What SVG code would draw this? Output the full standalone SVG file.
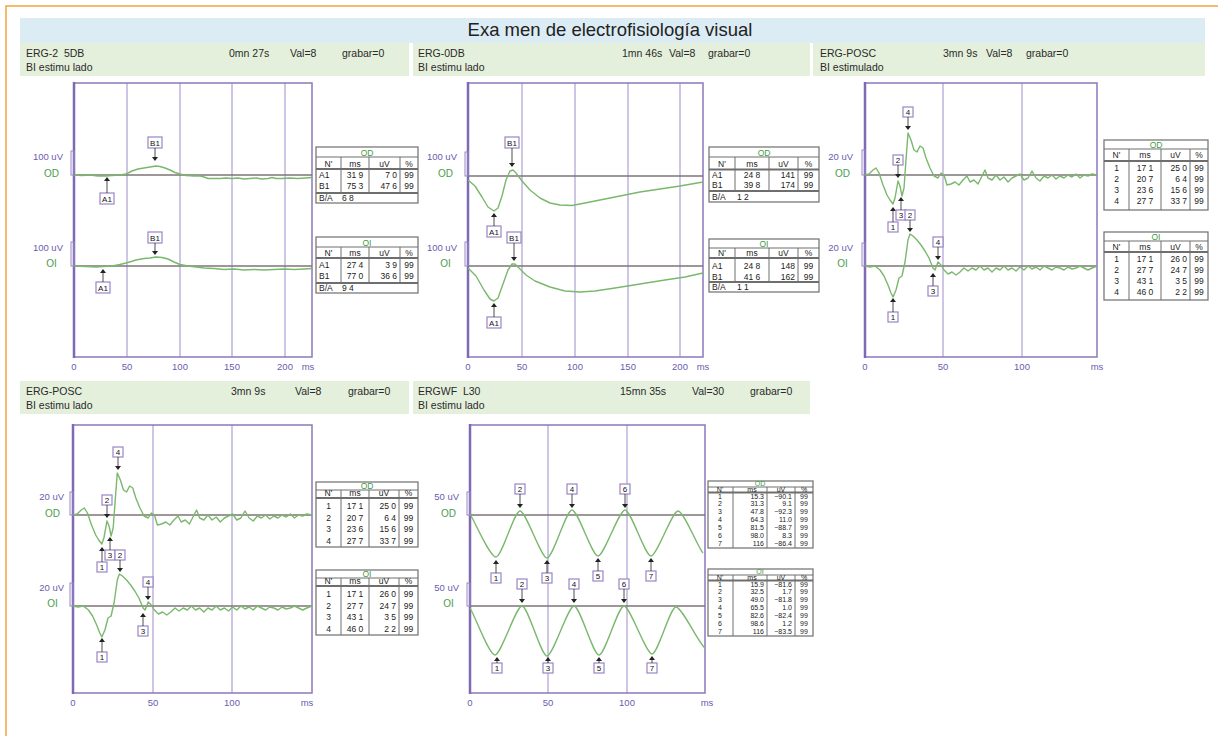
<svg xmlns="http://www.w3.org/2000/svg" xmlns:xlink="http://www.w3.org/1999/xlink" width="1218" height="736" viewBox="0 0 1218 736">
<style>
text{font-family:"Liberation Sans",Arial,sans-serif}
.hd{font-size:10.5px;fill:#2a2a2a;white-space:pre}
.fr{fill:none;stroke:#8b78bb;stroke-width:1.5}
.fl{stroke:#7e6ab3;stroke-width:2.5}
.gr{stroke:#9d8dc9;stroke-width:1}
.bs{stroke:#7d7575;stroke-width:1.4}
.tr{fill:none;stroke:#7ab86d;stroke-width:1.4;stroke-linejoin:round}
.sc{fill:#6a5cae;font-size:9.5px;text-anchor:end}
.ey{fill:#4a9d4a;font-size:10px;text-anchor:middle}
.ax{fill:#6a5cae;font-size:9.5px;text-anchor:middle}
.br{fill:none;stroke:#9a85c6;stroke-width:1}
.tb{fill:#fff;stroke:#6e6e6e;stroke-width:1.2}
.tl{stroke:#6e6e6e;stroke-width:1}
.tl2{stroke:#6e6e6e;stroke-width:1.8}
.tt{font-size:8.5px;fill:#222;text-anchor:middle}
.ts{font-size:7px;fill:#222;text-anchor:middle}
.l{text-anchor:start}
.e{text-anchor:end}
.tg{fill:#3f9a3f}
.mb{fill:#fff;stroke:#9a85c6;stroke-width:1.2}
.mt{font-size:8px;fill:#111;text-anchor:middle}
.ml{stroke:#222;stroke-width:0.8}
</style>
<defs>
<path id="ahd" d="M-3,-4 L3,-4 L0,0 Z" fill="#222"/>
<path id="ahu" d="M-3,4 L3,4 L0,0 Z" fill="#222"/>
<path id="p3od" class="tr" vector-effect="non-scaling-stroke" d="M865,175 L869,174 L873,170 L876,168 L879,173 L883,185 L887,195 L890,200 L893,204 L895,198 L898,181 L900,186 L902,196 L904,188 L906,160 L908,133 L911,140 L914,150 L917,152 L920,146 L923,148 L926,158 L930,168 L934,176 L938,178 L941,173 L944,175 L947,185 L951,184 L955,182 L959,185 L963,180 L967,176 L970,182 L974,180 L978,184 L982,176 L985,170 L988,178 L992,180 L996,175 L1000,180 L1004,177 L1008,182 L1012,178 L1016,176 L1020,174 L1024,180 L1028,178 L1032,171 L1036,178 L1040,181 L1044,176 L1048,178 L1052,175 L1056,179 L1060,176 L1064,178 L1068,175 L1072,177 L1076,174 L1080,178 L1084,175 L1088,176 L1092,174 L1097,175"/>
<path id="p3oi" class="tr" vector-effect="non-scaling-stroke" d="M865,266 L870,267 L875,266 L880,270 L884,276 L888,285 L891,293 L893,297 L896,290 L899,278 L902,276 L905,262 L908,240 L910,234 L913,236 L917,240 L921,245 L925,251 L929,258 L933,268 L935,270 L938,262 L941,265 L944,270 L948,274 L952,272 L956,275 L960,272 L964,268 L968,271 L972,268 L976,270 L980,266 L984,270 L988,268 L992,272 L996,268 L1000,270 L1004,266 L1008,270 L1012,268 L1016,271 L1020,267 L1024,270 L1028,266 L1032,269 L1036,267 L1040,270 L1044,266 L1048,268 L1052,270 L1056,267 L1060,268 L1064,270 L1068,267 L1072,269 L1076,268 L1080,266 L1084,268 L1088,270 L1092,268 L1097,266"/>
</defs>
<rect width="1218" height="736" fill="#fff"/>
<path d="M6,736 V6 H1218" fill="none" stroke="#f5a43c" stroke-width="1.5"/>
<g id="title">
<rect x="20" y="18" width="1185" height="25" fill="#dcecf4"/>
<text x="610" y="36" font-size="18.5" fill="#222" text-anchor="middle">Exa men de electrofisiología visual</text>
</g>

<!-- Panel 1 -->
<g id="panel1">
<rect x="20" y="43" width="389" height="33" fill="#e4f0dc"/>
<text class="hd" x="26" y="57">ERG-2  5DB</text>
<text class="hd" x="26" y="71">BI estimu lado</text>
<text class="hd" x="229" y="57">0mn 27s</text>
<text class="hd" x="290" y="57">Val=8</text>
<text class="hd" x="342" y="57">grabar=0</text>
<g class="gr"><line x1="127" y1="83" x2="127" y2="357"/><line x1="180" y1="83" x2="180" y2="357"/><line x1="232" y1="83" x2="232" y2="357"/><line x1="285" y1="83" x2="285" y2="357"/></g>
<rect class="fr" x="74" y="83" width="238" height="274"/>
<line class="fl" x1="74" y1="82" x2="74" y2="358"/>
<line class="bs" x1="74" y1="175" x2="312" y2="175"/>
<line class="bs" x1="74" y1="266" x2="312" y2="266"/>
<path class="tr" d="M74,175 L82,175.5 L90,175 L98,176 L106,176 L112,175.5 L120,175 L126,174 L132,171 L138,169 L144,168 L150,167 L156,166 L160,166.5 L165,168 L170,170 L175,172.5 L180,174 L186,175.5 L194,176 L200,176 L204,177 L208,178.5 L214,178.5 L220,178.5 L226,178 L232,178.5 L238,178 L244,179 L250,178.5 L256,178 L262,179 L268,178.5 L272,177.5 L276,178.5 L282,178.5 L290,178 L298,178.5 L305,178 L312,177.5"/>
<path class="tr" d="M74,266 L86,266.5 L96,267 L104,266.5 L112,266 L120,264.5 L128,262.5 L136,260 L144,258.5 L150,258 L156,257 L162,257.5 L168,259 L174,262 L180,264.5 L188,266 L196,267 L204,268 L214,268.5 L224,269.5 L234,269 L244,270 L254,269.5 L264,270 L274,269.5 L284,269 L294,269.5 L304,269 L312,268.5"/>
<rect class="br" x="71" y="151" width="3" height="24"/>
<rect class="br" x="71" y="242" width="3" height="24"/>
<text class="sc" x="63" y="160">100 uV</text>
<text class="ey" x="51.5" y="177">OD</text>
<text class="sc" x="63" y="251">100 uV</text>
<text class="ey" x="51.5" y="267">OI</text>
<text class="ax" x="74" y="370">0</text><text class="ax" x="127" y="370">50</text><text class="ax" x="180" y="370">100</text><text class="ax" x="232" y="370">150</text><text class="ax" x="285" y="370">200</text><text class="ax" x="308" y="370">ms</text>
<g id="p1-mk">
<rect class="mb" x="148" y="137" width="14" height="11"/><text class="mt" x="155" y="145.5">B1</text><line class="ml" x1="155" y1="148" x2="155" y2="158"/><use xlink:href="#ahd" x="155" y="161"/>
<rect class="mb" x="100" y="193" width="14" height="11"/><text class="mt" x="107" y="201.5">A1</text><line class="ml" x1="107" y1="180" x2="107" y2="193"/><use xlink:href="#ahu" x="107" y="177"/>
<rect class="mb" x="148" y="232" width="14" height="11"/><text class="mt" x="155" y="240.5">B1</text><line class="ml" x1="155" y1="243" x2="155" y2="252"/><use xlink:href="#ahd" x="155" y="255"/>
<rect class="mb" x="96" y="282" width="14" height="11"/><text class="mt" x="103" y="290.5">A1</text><line class="ml" x1="103" y1="272" x2="103" y2="282"/><use xlink:href="#ahu" x="103" y="269"/>
</g>
<g id="p1-od-table">
<rect class="tb" x="316" y="147" width="102" height="56"/>
<line class="tl" x1="316" y1="157" x2="418" y2="157"/><line class="tl2" x1="316" y1="169" x2="418" y2="169"/><line class="tl2" x1="316" y1="193" x2="418" y2="193"/>
<line class="tl" x1="341" y1="157" x2="341" y2="193"/><line class="tl" x1="369" y1="157" x2="369" y2="193"/><line class="tl" x1="400" y1="157" x2="400" y2="193"/>
<text class="tt tg" x="367" y="155.5">OD</text>
<text class="tt" x="328.5" y="166.5">N'</text><text class="tt" x="355" y="166.5">ms</text><text class="tt" x="384.5" y="166.5">uV</text><text class="tt" x="409" y="166.5">%</text>
<text class="tt l" x="319" y="178">A1</text><text class="tt" x="355" y="178">31 9</text><text class="tt e" x="397" y="178">7 0</text><text class="tt" x="409" y="178">99</text>
<text class="tt l" x="319" y="189">B1</text><text class="tt" x="355" y="189">75 3</text><text class="tt e" x="397" y="189">47 6</text><text class="tt" x="409" y="189">99</text>
<text class="tt l" x="319" y="200.5">B/A</text><text class="tt l" x="342" y="200.5">6 8</text>
</g>
<g id="p1-oi-table">
<rect class="tb" x="316" y="237" width="102" height="56"/>
<line class="tl" x1="316" y1="247" x2="418" y2="247"/><line class="tl2" x1="316" y1="258" x2="418" y2="258"/><line class="tl2" x1="316" y1="283" x2="418" y2="283"/>
<line class="tl" x1="341" y1="247" x2="341" y2="283"/><line class="tl" x1="369" y1="247" x2="369" y2="283"/><line class="tl" x1="400" y1="247" x2="400" y2="283"/>
<text class="tt tg" x="367" y="245.5">OI</text>
<text class="tt" x="328.5" y="255.5">N'</text><text class="tt" x="355" y="255.5">ms</text><text class="tt" x="384.5" y="255.5">uV</text><text class="tt" x="409" y="255.5">%</text>
<text class="tt l" x="319" y="268">A1</text><text class="tt" x="355" y="268">27 4</text><text class="tt e" x="397" y="268">3 9</text><text class="tt" x="409" y="268">99</text>
<text class="tt l" x="319" y="279">B1</text><text class="tt" x="355" y="279">77 0</text><text class="tt e" x="397" y="279">36 6</text><text class="tt" x="409" y="279">99</text>
<text class="tt l" x="319" y="290.5">B/A</text><text class="tt l" x="342" y="290.5">9 4</text>
</g>
</g>

<!-- Panel 2 -->
<g id="panel2">
<rect x="413" y="43" width="397" height="33" fill="#e4f0dc"/>
<text class="hd" x="418" y="57">ERG-0DB</text>
<text class="hd" x="418" y="71">BI estimu lado</text>
<text class="hd" x="622" y="57">1mn 46s</text>
<text class="hd" x="669" y="57">Val=8</text>
<text class="hd" x="708" y="57">grabar=0</text>
<g class="gr"><line x1="522" y1="83" x2="522" y2="357"/><line x1="575" y1="83" x2="575" y2="357"/><line x1="628" y1="83" x2="628" y2="357"/><line x1="680" y1="83" x2="680" y2="357"/></g>
<rect class="fr" x="468" y="83" width="235" height="274"/>
<line class="fl" x1="468" y1="82" x2="468" y2="358"/>
<line class="bs" x1="468" y1="176" x2="703" y2="176"/>
<line class="bs" x1="468" y1="266" x2="703" y2="266"/>
<path class="tr" d="M468,180 L475,186 L482,197 L488,207 L494,211 L498,208 L502,196 L506,180 L510,171 L513,170 L516,173 L522,181 L530,190 L540,198 L550,203 L560,205 L572,205.5 L585,203 L600,200 L620,196 L640,192 L660,189 L680,186 L703,182"/>
<path class="tr" d="M468,268 L476,276 L484,290 L490,299 L494,301 L498,298 L503,284 L508,270 L512,264 L515,264 L519,268 L526,275 L535,281 L550,287 L565,291 L580,292 L595,291 L615,288 L640,284 L665,280 L685,277 L703,273"/>
<rect class="br" x="465" y="152" width="3" height="24"/>
<rect class="br" x="465" y="242" width="3" height="24"/>
<text class="sc" x="457" y="160">100 uV</text>
<text class="ey" x="445.5" y="177">OD</text>
<text class="sc" x="457" y="251">100 uV</text>
<text class="ey" x="445.5" y="267">OI</text>
<text class="ax" x="468" y="370">0</text><text class="ax" x="522" y="370">50</text><text class="ax" x="575" y="370">100</text><text class="ax" x="628" y="370">150</text><text class="ax" x="680" y="370">200</text><text class="ax" x="703" y="370">ms</text>
<g id="p2-mk">
<rect class="mb" x="505" y="137" width="14" height="11"/><text class="mt" x="512" y="145.5">B1</text><line class="ml" x1="512" y1="148" x2="512" y2="164"/><use xlink:href="#ahd" x="512" y="167"/>
<rect class="mb" x="487" y="226" width="14" height="11"/><text class="mt" x="494" y="234.5">A1</text><line class="ml" x1="494" y1="216" x2="494" y2="226"/><use xlink:href="#ahu" x="494" y="213"/>
<rect class="mb" x="507" y="232" width="14" height="11"/><text class="mt" x="514" y="240.5">B1</text><line class="ml" x1="514" y1="243" x2="514" y2="258"/><use xlink:href="#ahd" x="514" y="261"/>
<rect class="mb" x="487" y="317" width="14" height="11"/><text class="mt" x="494" y="325.5">A1</text><line class="ml" x1="494" y1="306" x2="494" y2="317"/><use xlink:href="#ahu" x="494" y="303"/>
</g>
<g id="p2-od-table">
<rect class="tb" x="709" y="147" width="110" height="55"/>
<line class="tl" x1="709" y1="157" x2="819" y2="157"/><line class="tl2" x1="709" y1="169.5" x2="819" y2="169.5"/><line class="tl2" x1="709" y1="191" x2="819" y2="191"/>
<line class="tl" x1="735" y1="157" x2="735" y2="191"/><line class="tl" x1="769" y1="157" x2="769" y2="191"/><line class="tl" x1="798" y1="157" x2="798" y2="191"/>
<text class="tt tg" x="764" y="155.5">OD</text>
<text class="tt" x="722" y="166.5">N'</text><text class="tt" x="752" y="166.5">ms</text><text class="tt" x="783.5" y="166.5">uV</text><text class="tt" x="808.5" y="166.5">%</text>
<text class="tt l" x="712" y="177.5">A1</text><text class="tt" x="752" y="177.5">24 8</text><text class="tt e" x="795" y="177.5">141</text><text class="tt" x="808.5" y="177.5">99</text>
<text class="tt l" x="712" y="188">B1</text><text class="tt" x="752" y="188">39 8</text><text class="tt e" x="795" y="188">174</text><text class="tt" x="808.5" y="188">99</text>
<text class="tt l" x="712" y="199.5">B/A</text><text class="tt l" x="737" y="199.5">1 2</text>
</g>
<g id="p2-oi-table">
<rect class="tb" x="709" y="239" width="110" height="53"/>
<line class="tl" x1="709" y1="248" x2="819" y2="248"/><line class="tl2" x1="709" y1="258" x2="819" y2="258"/><line class="tl2" x1="709" y1="282" x2="819" y2="282"/>
<line class="tl" x1="735" y1="248" x2="735" y2="282"/><line class="tl" x1="769" y1="248" x2="769" y2="282"/><line class="tl" x1="798" y1="248" x2="798" y2="282"/>
<text class="tt tg" x="764" y="246.5">OI</text>
<text class="tt" x="722" y="256">N'</text><text class="tt" x="752" y="256">ms</text><text class="tt" x="783.5" y="256">uV</text><text class="tt" x="808.5" y="256">%</text>
<text class="tt l" x="712" y="268.5">A1</text><text class="tt" x="752" y="268.5">24 8</text><text class="tt e" x="795" y="268.5">148</text><text class="tt" x="808.5" y="268.5">99</text>
<text class="tt l" x="712" y="279.5">B1</text><text class="tt" x="752" y="279.5">41 6</text><text class="tt e" x="795" y="279.5">162</text><text class="tt" x="808.5" y="279.5">99</text>
<text class="tt l" x="712" y="290">B/A</text><text class="tt l" x="737" y="290">1 1</text>
</g>
</g>

<!-- Panel 3 -->
<g id="panel3">
<rect x="813" y="43" width="392" height="33" fill="#e4f0dc"/>
<text class="hd" x="820" y="57">ERG-POSC</text>
<text class="hd" x="820" y="71">BI estimulado</text>
<text class="hd" x="943" y="57">3mn 9s</text>
<text class="hd" x="986" y="57">Val=8</text>
<text class="hd" x="1026" y="57">grabar=0</text>
<g class="gr"><line x1="943" y1="83" x2="943" y2="357"/><line x1="1022" y1="83" x2="1022" y2="357"/></g>
<rect class="fr" x="865" y="83" width="232" height="274"/>
<line class="fl" x1="865" y1="82" x2="865" y2="358"/>
<line class="bs" x1="865" y1="175" x2="1097" y2="175"/>
<line class="bs" x1="865" y1="266" x2="1097" y2="266"/>
<use xlink:href="#p3od"/>
<use xlink:href="#p3oi"/>
<rect class="br" x="862" y="150" width="3" height="25"/>
<rect class="br" x="862" y="243" width="3" height="23"/>
<text class="sc" x="853" y="160">20 uV</text>
<text class="ey" x="842.5" y="177">OD</text>
<text class="sc" x="853" y="251">20 uV</text>
<text class="ey" x="842.5" y="267">OI</text>
<text class="ax" x="865" y="370">0</text><text class="ax" x="943" y="370">50</text><text class="ax" x="1022" y="370">100</text><text class="ax" x="1097" y="370">ms</text>
<g id="p3-mk">
<rect class="mb" x="903" y="107" width="10" height="10"/><text class="mt" x="908" y="115">4</text><line class="ml" x1="908" y1="117" x2="908" y2="127"/><use xlink:href="#ahd" x="908" y="130"/>
<rect class="mb" x="893" y="155" width="10" height="10"/><text class="mt" x="898" y="163">2</text><line class="ml" x1="898" y1="165" x2="898" y2="175"/><use xlink:href="#ahd" x="898" y="178"/>
<rect class="mb" x="888" y="222" width="10" height="10"/><text class="mt" x="893" y="230">1</text><line class="ml" x1="893" y1="210" x2="893" y2="222"/><use xlink:href="#ahu" x="893" y="207"/>
<rect class="mb" x="896" y="210" width="10" height="10"/><text class="mt" x="901" y="218">3</text><line class="ml" x1="901" y1="200" x2="901" y2="210"/><use xlink:href="#ahu" x="901" y="197"/>
<rect class="mb" x="905" y="210" width="10" height="10"/><text class="mt" x="910" y="218">2</text><line class="ml" x1="910" y1="220" x2="910" y2="229"/><use xlink:href="#ahd" x="910" y="232"/>
<rect class="mb" x="933" y="237" width="10" height="10"/><text class="mt" x="938" y="245">4</text><line class="ml" x1="938" y1="247" x2="938" y2="257"/><use xlink:href="#ahd" x="938" y="260"/>
<rect class="mb" x="928" y="286" width="10" height="10"/><text class="mt" x="933" y="294">3</text><line class="ml" x1="933" y1="276" x2="933" y2="286"/><use xlink:href="#ahu" x="933" y="273"/>
<rect class="mb" x="888" y="312" width="10" height="10"/><text class="mt" x="893" y="320">1</text><line class="ml" x1="893" y1="301" x2="893" y2="312"/><use xlink:href="#ahu" x="893" y="298"/>
</g>
<g id="p3-od-table">
<rect class="tb" x="1104" y="140" width="104" height="70"/>
<line class="tl" x1="1104" y1="149" x2="1208" y2="149"/><line class="tl2" x1="1104" y1="161" x2="1208" y2="161"/>
<line class="tl" x1="1129" y1="149" x2="1129" y2="210"/><line class="tl" x1="1161" y1="149" x2="1161" y2="210"/><line class="tl" x1="1190" y1="149" x2="1190" y2="210"/>
<text class="tt tg" x="1156" y="147.5">OD</text>
<text class="tt" x="1116.5" y="158">N'</text><text class="tt" x="1145" y="158">ms</text><text class="tt" x="1175.5" y="158">uV</text><text class="tt" x="1199" y="158">%</text>
<text class="tt" x="1116.5" y="171">1</text><text class="tt" x="1145" y="171">17 1</text><text class="tt e" x="1187" y="171">25 0</text><text class="tt" x="1199" y="171">99</text>
<text class="tt" x="1116.5" y="182">2</text><text class="tt" x="1145" y="182">20 7</text><text class="tt e" x="1187" y="182">6 4</text><text class="tt" x="1199" y="182">99</text>
<text class="tt" x="1116.5" y="193">3</text><text class="tt" x="1145" y="193">23 6</text><text class="tt e" x="1187" y="193">15 6</text><text class="tt" x="1199" y="193">99</text>
<text class="tt" x="1116.5" y="204">4</text><text class="tt" x="1145" y="204">27 7</text><text class="tt e" x="1187" y="204">33 7</text><text class="tt" x="1199" y="204">99</text>
</g>
<g id="p3-oi-table">
<rect class="tb" x="1104" y="232" width="104" height="68"/>
<line class="tl" x1="1104" y1="241" x2="1208" y2="241"/><line class="tl2" x1="1104" y1="252" x2="1208" y2="252"/>
<line class="tl" x1="1129" y1="241" x2="1129" y2="300"/><line class="tl" x1="1161" y1="241" x2="1161" y2="300"/><line class="tl" x1="1190" y1="241" x2="1190" y2="300"/>
<text class="tt tg" x="1156" y="239.5">OI</text>
<text class="tt" x="1116.5" y="249.5">N'</text><text class="tt" x="1145" y="249.5">ms</text><text class="tt" x="1175.5" y="249.5">uV</text><text class="tt" x="1199" y="249.5">%</text>
<text class="tt" x="1116.5" y="262">1</text><text class="tt" x="1145" y="262">17 1</text><text class="tt e" x="1187" y="262">26 0</text><text class="tt" x="1199" y="262">99</text>
<text class="tt" x="1116.5" y="273">2</text><text class="tt" x="1145" y="273">27 7</text><text class="tt e" x="1187" y="273">24 7</text><text class="tt" x="1199" y="273">99</text>
<text class="tt" x="1116.5" y="284">3</text><text class="tt" x="1145" y="284">43 1</text><text class="tt e" x="1187" y="284">3 5</text><text class="tt" x="1199" y="284">99</text>
<text class="tt" x="1116.5" y="295">4</text><text class="tt" x="1145" y="295">46 0</text><text class="tt e" x="1187" y="295">2 2</text><text class="tt" x="1199" y="295">99</text>
</g>
</g>

<!-- Panel 4 -->
<g id="panel4">
<rect x="20" y="381" width="389" height="33" fill="#e4f0dc"/>
<text class="hd" x="26" y="395">ERG-POSC</text>
<text class="hd" x="26" y="409">BI estimu lado</text>
<text class="hd" x="231" y="395">3mn 9s</text>
<text class="hd" x="295" y="395">Val=8</text>
<text class="hd" x="348" y="395">grabar=0</text>
<g class="gr"><line x1="153" y1="425" x2="153" y2="693"/><line x1="232" y1="425" x2="232" y2="693"/></g>
<rect class="fr" x="73" y="425" width="239" height="268"/>
<line class="fl" x1="73" y1="424" x2="73" y2="694"/>
<line class="bs" x1="73" y1="515" x2="312" y2="515"/>
<line class="bs" x1="73" y1="606" x2="312" y2="606"/>
<use xlink:href="#p3od" transform="translate(73,340) scale(1.03,1) translate(-865,0)"/>
<use xlink:href="#p3oi" transform="translate(73,340) scale(1.03,1) translate(-865,0)"/>
<rect class="br" x="70" y="492" width="3" height="23"/>
<rect class="br" x="70" y="583" width="3" height="23"/>
<text class="sc" x="64" y="500">20 uV</text>
<text class="ey" x="52.5" y="517">OD</text>
<text class="sc" x="64" y="591">20 uV</text>
<text class="ey" x="52.5" y="607">OI</text>
<text class="ax" x="73" y="706">0</text><text class="ax" x="153" y="706">50</text><text class="ax" x="232" y="706">100</text><text class="ax" x="307" y="706">ms</text>
<g id="p4-mk">
<rect class="mb" x="113" y="447" width="10" height="10"/><text class="mt" x="118" y="455">4</text><line class="ml" x1="118" y1="457" x2="118" y2="467"/><use xlink:href="#ahd" x="118" y="470"/>
<rect class="mb" x="102" y="495" width="10" height="10"/><text class="mt" x="107" y="503">2</text><line class="ml" x1="107" y1="505" x2="107" y2="515"/><use xlink:href="#ahd" x="107" y="518"/>
<rect class="mb" x="97" y="562" width="10" height="10"/><text class="mt" x="102" y="570">1</text><line class="ml" x1="102" y1="550" x2="102" y2="562"/><use xlink:href="#ahu" x="102" y="547"/>
<rect class="mb" x="105" y="550" width="10" height="10"/><text class="mt" x="110" y="558">3</text><line class="ml" x1="110" y1="540" x2="110" y2="550"/><use xlink:href="#ahu" x="110" y="537"/>
<rect class="mb" x="115" y="550" width="10" height="10"/><text class="mt" x="120" y="558">2</text><line class="ml" x1="120" y1="560" x2="120" y2="569"/><use xlink:href="#ahd" x="120" y="572"/>
<rect class="mb" x="143" y="577" width="10" height="10"/><text class="mt" x="148" y="585">4</text><line class="ml" x1="148" y1="587" x2="148" y2="597"/><use xlink:href="#ahd" x="148" y="600"/>
<rect class="mb" x="138" y="626" width="10" height="10"/><text class="mt" x="143" y="634">3</text><line class="ml" x1="143" y1="616" x2="143" y2="626"/><use xlink:href="#ahu" x="143" y="613"/>
<rect class="mb" x="97" y="652" width="10" height="10"/><text class="mt" x="102" y="660">1</text><line class="ml" x1="102" y1="641" x2="102" y2="652"/><use xlink:href="#ahu" x="102" y="638"/>
</g>
<g id="p4-od-table">
<rect class="tb" x="316" y="482" width="102" height="65"/>
<line class="tl" x1="316" y1="490" x2="418" y2="490"/><line class="tl2" x1="316" y1="498" x2="418" y2="498"/>
<line class="tl" x1="341" y1="490" x2="341" y2="547"/><line class="tl" x1="369" y1="490" x2="369" y2="547"/><line class="tl" x1="399" y1="490" x2="399" y2="547"/>
<text class="tt tg" x="367" y="489">OD</text>
<text class="tt" x="328.5" y="496">N'</text><text class="tt" x="355" y="496">ms</text><text class="tt" x="384" y="496">uV</text><text class="tt" x="408.5" y="496">%</text>
<text class="tt" x="328.5" y="509">1</text><text class="tt" x="355" y="509">17 1</text><text class="tt e" x="396" y="509">25 0</text><text class="tt" x="408.5" y="509">99</text>
<text class="tt" x="328.5" y="520.5">2</text><text class="tt" x="355" y="520.5">20 7</text><text class="tt e" x="396" y="520.5">6 4</text><text class="tt" x="408.5" y="520.5">99</text>
<text class="tt" x="328.5" y="532">3</text><text class="tt" x="355" y="532">23 6</text><text class="tt e" x="396" y="532">15 6</text><text class="tt" x="408.5" y="532">99</text>
<text class="tt" x="328.5" y="543.5">4</text><text class="tt" x="355" y="543.5">27 7</text><text class="tt e" x="396" y="543.5">33 7</text><text class="tt" x="408.5" y="543.5">99</text>
</g>
<g id="p4-oi-table">
<rect class="tb" x="316" y="570" width="102" height="65"/>
<line class="tl" x1="316" y1="578" x2="418" y2="578"/><line class="tl2" x1="316" y1="586" x2="418" y2="586"/>
<line class="tl" x1="341" y1="578" x2="341" y2="635"/><line class="tl" x1="369" y1="578" x2="369" y2="635"/><line class="tl" x1="399" y1="578" x2="399" y2="635"/>
<text class="tt tg" x="367" y="577">OI</text>
<text class="tt" x="328.5" y="584">N'</text><text class="tt" x="355" y="584">ms</text><text class="tt" x="384" y="584">uV</text><text class="tt" x="408.5" y="584">%</text>
<text class="tt" x="328.5" y="597">1</text><text class="tt" x="355" y="597">17 1</text><text class="tt e" x="396" y="597">26 0</text><text class="tt" x="408.5" y="597">99</text>
<text class="tt" x="328.5" y="608.5">2</text><text class="tt" x="355" y="608.5">27 7</text><text class="tt e" x="396" y="608.5">24 7</text><text class="tt" x="408.5" y="608.5">99</text>
<text class="tt" x="328.5" y="620">3</text><text class="tt" x="355" y="620">43 1</text><text class="tt e" x="396" y="620">3 5</text><text class="tt" x="408.5" y="620">99</text>
<text class="tt" x="328.5" y="631.5">4</text><text class="tt" x="355" y="631.5">46 0</text><text class="tt e" x="396" y="631.5">2 2</text><text class="tt" x="408.5" y="631.5">99</text>
</g>
</g>

<!-- Panel 5 -->
<g id="panel5">
<rect x="413" y="381" width="397" height="33" fill="#e4f0dc"/>
<text class="hd" x="418" y="395">ERGWF  L30</text>
<text class="hd" x="418" y="409">BI estimu lado</text>
<text class="hd" x="620" y="395">15mn 35s</text>
<text class="hd" x="692" y="395">Val=30</text>
<text class="hd" x="750" y="395">grabar=0</text>
<g class="gr"><line x1="548" y1="425" x2="548" y2="693"/><line x1="627" y1="425" x2="627" y2="693"/></g>
<rect class="fr" x="470" y="425" width="235" height="268"/>
<line class="fl" x1="470" y1="424" x2="470" y2="694"/>
<line class="bs" x1="470" y1="515" x2="705" y2="515"/>
<line class="bs" x1="470" y1="606" x2="705" y2="606"/>
<path class="tr" d="M470,514 C476,524 490,557 496,557 C502,557 514,511 520,511 C526,511 541,558 547,558 C553,558 566,510 572,510 C578,510 592,556 598,556 C604,556 619,510 625,510 C631,510 645,556 651,556 C657,556 672,511 678,511 C684,511 698,548 703,553"/>
<path class="tr" d="M470,608 C476,618 489,655 495,655 C501,655 516,606 522,606 C528,606 541,656 547,656 C553,656 568,606 574,606 C580,606 593,655 599,655 C605,655 618,606 624,606 C630,606 646,654 652,654 C658,654 670,607 676,607 C682,607 699,644 705,648"/>
<rect class="br" x="467" y="492" width="3" height="23"/>
<rect class="br" x="467" y="583" width="3" height="23"/>
<text class="sc" x="459" y="500">50 uV</text>
<text class="ey" x="448.5" y="517">OD</text>
<text class="sc" x="459" y="591">50 uV</text>
<text class="ey" x="448.5" y="607">OI</text>
<text class="ax" x="470" y="706">0</text><text class="ax" x="548" y="706">50</text><text class="ax" x="627" y="706">100</text><text class="ax" x="707" y="706">ms</text>
<g id="p5-mk">
<rect class="mb" x="515" y="484" width="10" height="10"/><text class="mt" x="520" y="492">2</text><line class="ml" x1="520" y1="494" x2="520" y2="505"/><use xlink:href="#ahd" x="520" y="508"/>
<rect class="mb" x="567" y="484" width="10" height="10"/><text class="mt" x="572" y="492">4</text><line class="ml" x1="572" y1="494" x2="572" y2="505"/><use xlink:href="#ahd" x="572" y="508"/>
<rect class="mb" x="620" y="484" width="10" height="10"/><text class="mt" x="625" y="492">6</text><line class="ml" x1="625" y1="494" x2="625" y2="505"/><use xlink:href="#ahd" x="625" y="508"/>
<rect class="mb" x="491" y="573" width="10" height="10"/><text class="mt" x="496" y="581">1</text><line class="ml" x1="496" y1="563" x2="496" y2="573"/><use xlink:href="#ahu" x="496" y="560"/>
<rect class="mb" x="542" y="573" width="10" height="10"/><text class="mt" x="547" y="581">3</text><line class="ml" x1="547" y1="563" x2="547" y2="573"/><use xlink:href="#ahu" x="547" y="560"/>
<rect class="mb" x="593" y="571" width="10" height="10"/><text class="mt" x="598" y="579">5</text><line class="ml" x1="598" y1="561" x2="598" y2="571"/><use xlink:href="#ahu" x="598" y="558"/>
<rect class="mb" x="646" y="571" width="10" height="10"/><text class="mt" x="651" y="579">7</text><line class="ml" x1="651" y1="561" x2="651" y2="571"/><use xlink:href="#ahu" x="651" y="558"/>
<rect class="mb" x="517" y="579" width="10" height="10"/><text class="mt" x="522" y="587">2</text><line class="ml" x1="522" y1="589" x2="522" y2="600"/><use xlink:href="#ahd" x="522" y="603"/>
<rect class="mb" x="569" y="579" width="10" height="10"/><text class="mt" x="574" y="587">4</text><line class="ml" x1="574" y1="589" x2="574" y2="600"/><use xlink:href="#ahd" x="574" y="603"/>
<rect class="mb" x="619" y="579" width="10" height="10"/><text class="mt" x="624" y="587">6</text><line class="ml" x1="624" y1="589" x2="624" y2="600"/><use xlink:href="#ahd" x="624" y="603"/>
<rect class="mb" x="492" y="663" width="10" height="10"/><text class="mt" x="497" y="671">1</text><line class="ml" x1="497" y1="661" x2="497" y2="663"/><use xlink:href="#ahu" x="497" y="657"/>
<rect class="mb" x="543" y="663" width="10" height="10"/><text class="mt" x="548" y="671">3</text><line class="ml" x1="548" y1="661" x2="548" y2="663"/><use xlink:href="#ahu" x="548" y="657"/>
<rect class="mb" x="594" y="663" width="10" height="10"/><text class="mt" x="599" y="671">5</text><line class="ml" x1="599" y1="661" x2="599" y2="663"/><use xlink:href="#ahu" x="599" y="657"/>
<rect class="mb" x="647" y="663" width="10" height="10"/><text class="mt" x="652" y="671">7</text><line class="ml" x1="652" y1="660" x2="652" y2="663"/><use xlink:href="#ahu" x="652" y="656"/>
</g>
<g id="p5-od-table">
<rect class="tb" x="708" y="481" width="105" height="67"/>
<line class="tl" x1="708" y1="487" x2="813" y2="487"/><line class="tl2" x1="708" y1="492.5" x2="813" y2="492.5"/>
<line class="tl" x1="733" y1="487" x2="733" y2="548"/><line class="tl" x1="767" y1="487" x2="767" y2="548"/><line class="tl" x1="795" y1="487" x2="795" y2="548"/>
<text class="ts tg" x="760" y="486">OD</text>
<text class="ts" x="720" y="491.5">N'</text><text class="ts" x="752" y="491.5">ms</text><text class="ts" x="781" y="491.5">uV</text><text class="ts" x="804" y="491.5">%</text>
<text class="ts" x="720" y="498.5">1</text><text class="ts e" x="764" y="498.5">15.3</text><text class="ts e" x="792" y="498.5">−90.1</text><text class="ts" x="804" y="498.5">99</text>
<text class="ts" x="720" y="506.4">2</text><text class="ts e" x="764" y="506.4">31.3</text><text class="ts e" x="792" y="506.4">9.1</text><text class="ts" x="804" y="506.4">99</text>
<text class="ts" x="720" y="514.3">3</text><text class="ts e" x="764" y="514.3">47.8</text><text class="ts e" x="792" y="514.3">−92.3</text><text class="ts" x="804" y="514.3">99</text>
<text class="ts" x="720" y="522.2">4</text><text class="ts e" x="764" y="522.2">64.3</text><text class="ts e" x="792" y="522.2">11.0</text><text class="ts" x="804" y="522.2">99</text>
<text class="ts" x="720" y="530.1">5</text><text class="ts e" x="764" y="530.1">81.5</text><text class="ts e" x="792" y="530.1">−88.7</text><text class="ts" x="804" y="530.1">99</text>
<text class="ts" x="720" y="538">6</text><text class="ts e" x="764" y="538">98.0</text><text class="ts e" x="792" y="538">8.3</text><text class="ts" x="804" y="538">99</text>
<text class="ts" x="720" y="545.9">7</text><text class="ts e" x="764" y="545.9">116</text><text class="ts e" x="792" y="545.9">−86.4</text><text class="ts" x="804" y="545.9">99</text>
</g>
<g id="p5-oi-table">
<rect class="tb" x="708" y="569" width="105" height="67"/>
<line class="tl" x1="708" y1="575" x2="813" y2="575"/><line class="tl2" x1="708" y1="580.5" x2="813" y2="580.5"/>
<line class="tl" x1="733" y1="575" x2="733" y2="636"/><line class="tl" x1="767" y1="575" x2="767" y2="636"/><line class="tl" x1="795" y1="575" x2="795" y2="636"/>
<text class="ts tg" x="760" y="574">OI</text>
<text class="ts" x="720" y="579.5">N'</text><text class="ts" x="752" y="579.5">ms</text><text class="ts" x="781" y="579.5">uV</text><text class="ts" x="804" y="579.5">%</text>
<text class="ts" x="720" y="586.5">1</text><text class="ts e" x="764" y="586.5">15.9</text><text class="ts e" x="792" y="586.5">−81.6</text><text class="ts" x="804" y="586.5">99</text>
<text class="ts" x="720" y="594.4">2</text><text class="ts e" x="764" y="594.4">32.5</text><text class="ts e" x="792" y="594.4">1.7</text><text class="ts" x="804" y="594.4">99</text>
<text class="ts" x="720" y="602.3">3</text><text class="ts e" x="764" y="602.3">49.0</text><text class="ts e" x="792" y="602.3">−81.8</text><text class="ts" x="804" y="602.3">99</text>
<text class="ts" x="720" y="610.2">4</text><text class="ts e" x="764" y="610.2">65.5</text><text class="ts e" x="792" y="610.2">1.0</text><text class="ts" x="804" y="610.2">99</text>
<text class="ts" x="720" y="618.1">5</text><text class="ts e" x="764" y="618.1">82.6</text><text class="ts e" x="792" y="618.1">−82.4</text><text class="ts" x="804" y="618.1">99</text>
<text class="ts" x="720" y="626">6</text><text class="ts e" x="764" y="626">98.6</text><text class="ts e" x="792" y="626">1.2</text><text class="ts" x="804" y="626">99</text>
<text class="ts" x="720" y="633.9">7</text><text class="ts e" x="764" y="633.9">116</text><text class="ts e" x="792" y="633.9">−83.5</text><text class="ts" x="804" y="633.9">99</text>
</g>
</g>
</svg>
